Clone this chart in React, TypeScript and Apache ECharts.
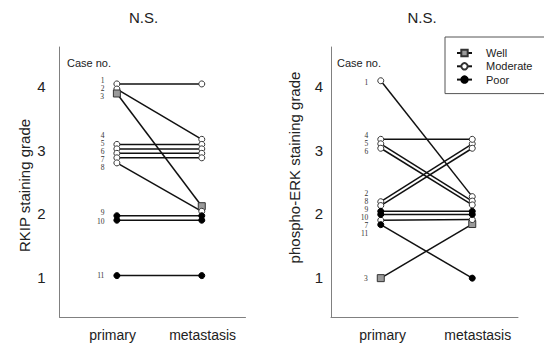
import React, { useEffect, useRef } from 'react';
import * as echarts from 'echarts';

// ---- data ----
const caseNumbers = ['1', '2', '3', '4', '5', '6', '7', '8', '9', '10', '11'];
const differentiation = ['Moderate', 'Moderate', 'Well', 'Moderate', 'Moderate', 'Moderate', 'Moderate', 'Moderate', 'Poor', 'Poor', 'Poor'];
const stageLabels = ['primary', 'metastasis'];
const gradeTicks = [1, 2, 3, 4];
const legendNames = ['Well', 'Moderate', 'Poor'];
const panelTitles = ['N.S.', 'N.S.'];
const axisNames = ['RKIP staining grade', 'phospho-ERK staining grade'];

const rkipPrimary = [4.04, 3.96, 3.89, 3.09, 3.02, 2.95, 2.88, 2.80, 1.97, 1.90, 1.03];
const rkipMetastasis = [4.04, 3.17, 2.12, 3.09, 3.02, 2.95, 2.88, 2.04, 1.97, 1.90, 1.03];
const erkPrimary = [4.09, 2.19, 0.99, 3.17, 3.10, 3.03, 1.90, 2.13, 2.04, 1.99, 1.83];
const erkMetastasis = [2.27, 3.10, 1.84, 3.17, 2.20, 2.14, 1.91, 3.03, 2.04, 1.99, 0.99];

// ---- layout (case-number label nudges, px) ----
const rkipLabelNudge = [-3.1, -0.3, 3.3, -8.8, -5.3, -1.8, 1.8, 4.7, -3.4, 1.1, 0];
const erkLabelNudge = [1.7, -8.3, 0, -3.7, -0.2, 3.3, 5.2, -4.1, -1.7, 2.9, 8.7];

const SANS = '"Liberation Sans", Arial, sans-serif';
const SERIF = '"Liberation Serif", "Times New Roman", serif';
const AXIS_GRAY = '#808080';

const markerStyle: Record<string, any> = {
  Well: { symbol: 'rect', symbolSize: 7, itemStyle: { color: '#9a9a9a', borderColor: '#333', borderWidth: 1 } },
  Moderate: { symbol: 'circle', symbolSize: 6, itemStyle: { color: '#fff', borderColor: '#333', borderWidth: 1 } },
  Poor: { symbol: 'circle', symbolSize: 6, itemStyle: { color: '#000', borderColor: '#000', borderWidth: 1 } },
};

function buildSeries(panel: number, pri: number[], met: number[], nudge: number[]) {
  return caseNumbers.map((c, i) => {
    const g = differentiation[i];
    return {
      type: 'line',
      name: g,
      xAxisIndex: panel,
      yAxisIndex: panel,
      ...markerStyle[g],
      showAllSymbol: true,
      lineStyle: { color: '#111', width: 1.5 },
      emphasis: { disabled: true },
      data: [
        {
          value: [1, pri[i]],
          label: {
            show: true,
            position: 'left',
            distance: 9,
            formatter: c,
            offset: [0, nudge[i]],
            fontSize: 7.5,
            lineHeight: 7,
            fontFamily: SERIF,
            color: '#333',
          },
        },
        [2, met[i]],
      ],
    };
  });
}

function makeXAxis(gridIndex: number, min: number, max: number, labelPos: number[]) {
  return {
    type: 'value',
    gridIndex,
    min,
    max,
    splitLine: { show: false },
    axisTick: { show: false },
    axisLine: { show: true, lineStyle: { color: AXIS_GRAY, width: 1 } },
    axisLabel: {
      customValues: labelPos,
      formatter: (v: number) => (v < 1.5 ? stageLabels[0] : stageLabels[1]),
      fontSize: 14,
      fontFamily: SANS,
      color: '#222',
      margin: 11,
    },
  };
}

function makeYAxis(gridIndex: number, margin: number) {
  return {
    type: 'value',
    gridIndex,
    min: 0.38,
    max: 4.62,
    splitLine: { show: false },
    axisTick: { show: false },
    axisLine: { show: true, lineStyle: { color: AXIS_GRAY, width: 1 } },
    axisLabel: {
      customValues: gradeTicks,
      formatter: (v: number) => String(Math.round(v)),
      fontSize: 15,
      fontFamily: SANS,
      color: '#222',
      margin,
    },
  };
}

export default function App() {
  const ref = useRef<HTMLDivElement>(null);
  useEffect(() => {
    if (!ref.current) return;
    const chart = echarts.init(ref.current, undefined, { renderer: 'svg' });
    chart.setOption({
      animation: false,
      backgroundColor: '#fff',
      title: [
        { text: panelTitles[0], left: 138.5, top: 5, textAlign: 'center', textStyle: { fontSize: 15, fontWeight: 'normal', fontFamily: SANS, color: '#222' } },
        { text: panelTitles[1], left: 417, top: 5, textAlign: 'center', textStyle: { fontSize: 15, fontWeight: 'normal', fontFamily: SANS, color: '#222' } },
      ],
      legend: {
        data: legendNames,
        orient: 'vertical',
        left: 445,
        top: 37,
        itemWidth: 15,
        itemHeight: 8,
        itemGap: 1.3,
        padding: [10, 22, 8, 11],
        borderColor: '#555',
        borderWidth: 1,
        selectedMode: false,
        textStyle: { fontSize: 11, fontFamily: SANS, color: '#222', lineHeight: 12, padding: [0, 0, 0, 9] },
      },
      grid: [
        { left: 59.5, top: 47, width: 186, height: 270 },
        { left: 331, top: 47, width: 187, height: 270 },
      ],
      xAxis: [
        makeXAxis(0, 0.324, 2.515, [0.95, 2.01]),
        makeXAxis(1, 0.456, 2.5, [1.02, 2.06]),
      ],
      yAxis: [makeYAxis(0, 14), makeYAxis(1, 8)],
      graphic: [
        { type: 'text', x: 24, y: 185.5, rotation: Math.PI / 2, style: { text: axisNames[0], fontSize: 15, fontFamily: SANS, fill: '#222', align: 'center', verticalAlign: 'middle' } },
        { type: 'text', x: 294.5, y: 167.5, rotation: Math.PI / 2, style: { text: axisNames[1], fontSize: 15, fontFamily: SANS, fill: '#222', align: 'center', verticalAlign: 'middle' } },
        { type: 'text', x: 67, y: 63, style: { text: 'Case no.', fontSize: 11, fontFamily: SANS, fill: '#222', align: 'left', verticalAlign: 'middle' } },
        { type: 'text', x: 337, y: 63, style: { text: 'Case no.', fontSize: 11, fontFamily: SANS, fill: '#222', align: 'left', verticalAlign: 'middle' } },
      ],
      series: [
        ...buildSeries(0, rkipPrimary, rkipMetastasis, rkipLabelNudge),
        ...buildSeries(1, erkPrimary, erkMetastasis, erkLabelNudge),
      ],
    });
    return () => chart.dispose();
  }, []);
  return <div ref={ref} style={{ position: 'absolute', left: 0, top: 0, width: 544, height: 345 }} />;
}
